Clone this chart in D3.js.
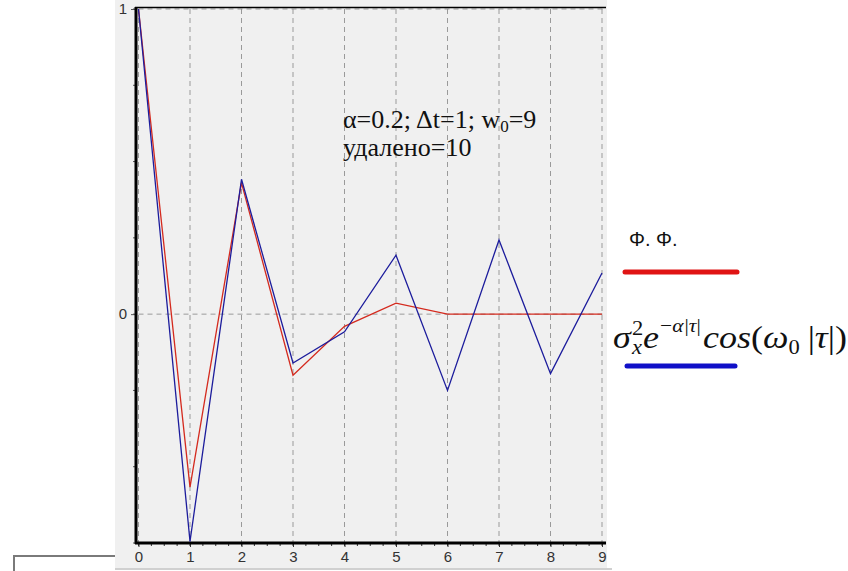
<!DOCTYPE html>
<html><head><meta charset="utf-8">
<script src="https://cdn.jsdelivr.net/npm/d3@7"></script>
<style>body{margin:0;background:#fff;} svg{display:block;}</style>
</head><body>
<svg id="c" width="848" height="571"></svg>
<script>
const tau = [0,1,2,3,4,5,6,7,8,9];
const blueVals = [1.0,-0.745,0.442,-0.160,-0.058,0.193,-0.250,0.243,-0.195,0.135];
const redVals  = [1.0,-0.567,0.430,-0.200,-0.040,0.036,0.0,0.0,0.0,0.0];
const xTicks = [0,1,2,3,4,5,6,7,8,9];
const yTickLabels = [0,1];

const svg = d3.select("#c");
const x = d3.scaleLinear().domain([0,9]).range([138.5,602]);
const y = d3.scaleLinear().domain([-0.75,1]).range([543,9]);

// panel background
svg.append("rect").attr("x",115).attr("y",0).attr("width",492).attr("height",568).attr("fill","#f0f0f0");
svg.append("line").attr("x1",115).attr("x2",612).attr("y1",569).attr("y2",569).attr("stroke","#d0d0d0").attr("stroke-width",2);
// frame fragment bottom-left
svg.append("path").attr("d","M14,571 V556 H115").attr("fill","none").attr("stroke","#7a7a7a").attr("stroke-width",2);

// grid
const g = svg.append("g");
g.selectAll("line.vg").data(xTicks).join("line")
  .attr("x1",d=>x(d)).attr("x2",d=>x(d)).attr("y1",y(1)).attr("y2",y(-0.75))
  .attr("stroke","#9a9a9a").attr("stroke-dasharray","5,4").attr("stroke-width",1);
g.selectAll("line.hg").data(yTickLabels).join("line")
  .attr("x1",x(0)).attr("x2",605).attr("y1",d=>y(d)).attr("y2",d=>y(d))
  .attr("stroke","#9a9a9a").attr("stroke-dasharray","5,4").attr("stroke-width",1);

// axes
const xAxis = d3.axisBottom(x).tickValues(xTicks).tickSize(4).tickFormat(d3.format("d"));
const xa = svg.append("g").attr("transform",`translate(0,${y(-0.75)})`).call(xAxis);
xa.select(".domain").remove();
xa.selectAll("text").style("font-family","Liberation Sans, Arial").style("font-size","15px")
  .attr("fill","#333").attr("y",8).attr("dy","0.71em");
xa.selectAll("line").attr("stroke","#333");
const minorX = d3.range(0,9.01,0.25);
svg.append("g").selectAll("line").data(minorX).join("line")
  .attr("x1",d=>x(d)).attr("x2",d=>x(d)).attr("y1",y(-0.75)).attr("y2",y(-0.75)+3).attr("stroke","#333");

const yAxis = d3.axisLeft(y).tickValues(yTickLabels).tickSize(5).tickFormat(d3.format("d"));
const ya = svg.append("g").attr("transform",`translate(136,0)`).call(yAxis);
ya.select(".domain").remove();
ya.selectAll("text").style("font-family","Liberation Sans, Arial").style("font-size","15px")
  .attr("fill","#333").attr("x",-9);
ya.selectAll("line").attr("stroke","#555");
const minorY = d3.range(-0.75,1.01,0.25);
svg.append("g").selectAll("line").data(minorY).join("line")
  .attr("x1",133).attr("x2",136).attr("y1",d=>y(d)).attr("y2",d=>y(d)).attr("stroke","#555");

svg.append("line").attr("x1",136).attr("x2",136).attr("y1",7).attr("y2",544).attr("stroke","#000").attr("stroke-width",3);
svg.append("line").attr("x1",135).attr("x2",606).attr("y1",543).attr("y2",543).attr("stroke","#000").attr("stroke-width",3);
svg.append("line").attr("x1",135).attr("x2",606).attr("y1",7.5).attr("y2",7.5).attr("stroke","#000").attr("stroke-width",1.5);

// series
const line = d3.line().x((d,i)=>x(tau[i])).y(d=>y(d));
svg.append("path").datum(redVals).attr("d",line).attr("fill","none").attr("stroke","#d42a1e").attr("stroke-width",1.3);
svg.append("path").datum(blueVals).attr("d",line).attr("fill","none").attr("stroke","#1c1c9c").attr("stroke-width",1.3);

// annotation
const ann = svg.append("text").attr("font-family","Liberation Serif, Times New Roman, serif").attr("font-size",26).attr("fill","#111");
const t1 = ann.append("tspan").attr("x",343).attr("y",128);
t1.append("tspan").text("α=0.2; Δt=1; w");
t1.append("tspan").attr("font-size",17).attr("dy",4).text("0");
t1.append("tspan").attr("dy",-4).text("=9");
ann.append("tspan").attr("x",343).attr("y",156).text("удалено=10");

// legend
svg.append("text").attr("x",629).attr("y",246).attr("font-family","Liberation Sans, Arial").attr("font-size",20).attr("fill","#111").text("Φ. Φ.");
svg.append("line").attr("x1",625).attr("x2",737).attr("y1",272).attr("y2",272).attr("stroke","#e01414").attr("stroke-width",5).attr("stroke-linecap","round");
svg.append("line").attr("x1",627).attr("x2",735).attr("y1",366).attr("y2",366).attr("stroke","#1010c8").attr("stroke-width",5).attr("stroke-linecap","round");

// formula: sigma_x^2 e^{-alpha|tau|} cos(omega_0 |tau|), one text, stretched to fit
const fparts = [
  {t:"σ", dy:0, dx:0, s:32, i:true},
  {t:"2", dy:-13, dx:1, s:20, i:false},
  {t:"x", dy:19, dx:-10, s:20, i:true},
  {t:"e", dy:-6, dx:1, s:32, i:true},
  {t:"−", dy:-16, dx:1, s:19, i:false},
  {t:"α", dy:0, dx:0, s:19, i:true},
  {t:"|", dy:0, dx:1, s:19, i:false},
  {t:"τ", dy:0, dx:0, s:19, i:true},
  {t:"|", dy:0, dx:0, s:19, i:false},
  {t:"cos", dy:16, dx:2, s:32, i:true},
  {t:"(", dy:0, dx:0, s:32, i:false},
  {t:"ω", dy:0, dx:0, s:32, i:true},
  {t:"0", dy:6, dx:0, s:20, i:false},
  {t:"|", dy:-6, dx:7, s:32, i:false},
  {t:"τ", dy:0, dx:0, s:32, i:true},
  {t:"|)", dy:0, dx:0, s:32, i:false}
];
const fg = svg.append("g");
const ft = fg.append("text").attr("x",0).attr("y",0)
  .attr("font-family","Liberation Serif, Times New Roman, serif").attr("fill","#111");
ft.selectAll("tspan").data(fparts).join("tspan")
  .attr("dx",d=>d.dx).attr("dy",d=>d.dy).attr("font-size",d=>d.s)
  .attr("font-style",d=>d.i?"italic":"normal").text(d=>d.t);
const bb = ft.node().getBBox();
const sx = 234 / bb.width;
fg.attr("transform",`translate(${613 - bb.x*sx},348) scale(${sx},1)`);
</script>
</body></html>
